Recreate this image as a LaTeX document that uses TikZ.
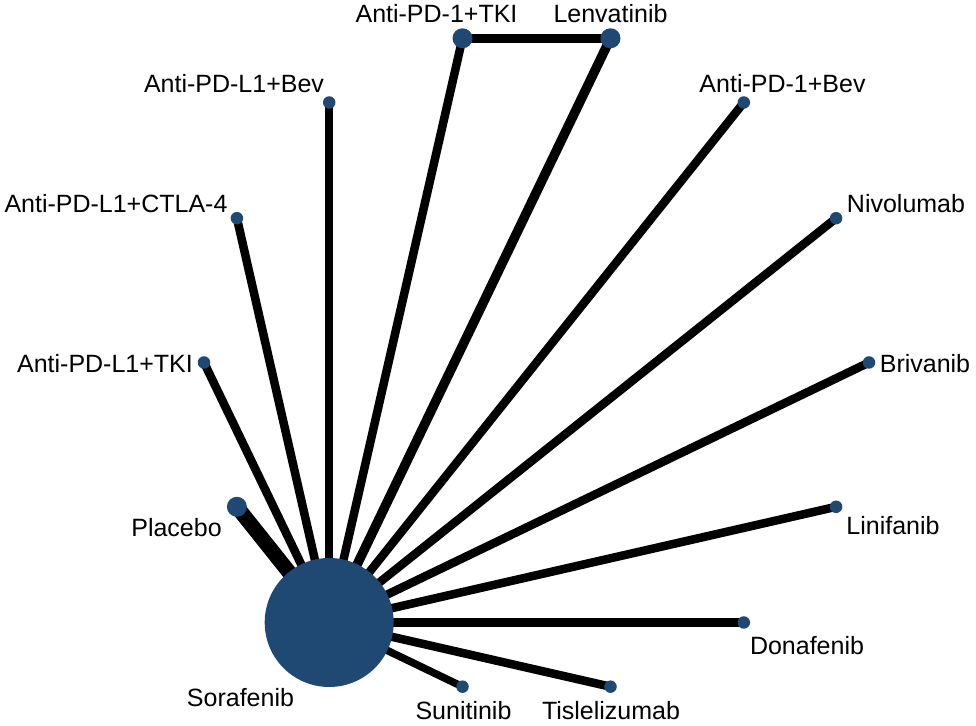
\documentclass[tikz,border=0pt]{standalone}
\usepackage{fontspec}
\setmainfont{Liberation Sans}
\usetikzlibrary{backgrounds}
\definecolor{netblue}{RGB}{31,73,115}
\tikzset{
  trt/.style={circle, fill=netblue, inner sep=0pt, minimum size=6.25pt},
  bigtrt/.style={trt, minimum size=10pt},
  lbl/.style={anchor=base, inner sep=0pt, font=\fontsize{12.5}{15}\selectfont},
  arm/.style={line width=4.25pt},
}
\begin{document}
\begin{tikzpicture}
        [x=0.5pt, y=-0.5pt]
        \useasboundingbox (0,0) rectangle (976,726);
        % treatments
        \node[trt, minimum size=64.5pt] (sora) at (329.2,622.5) {};
        \node[trt] (briv) at (869.0,362.5) {};
        \node[trt] (nivo) at (836.1,218.2) {};
        \node[trt] (pdbev) at (743.8,102.5) {};
        \node[bigtrt] (lenva) at (610.5,38.3) {};
        \node[bigtrt] (pdtki) at (462.5,38.3) {};
        \node[trt] (plbev) at (329.2,102.5) {};
        \node[trt] (plctla) at (236.9,218.2) {};
        \node[trt] (pltki) at (204.0,362.5) {};
        \node[bigtrt] (plac) at (236.9,506.8) {};
        \node[trt] (suni) at (462.5,686.7) {};
        \node[trt] (tisl) at (610.5,686.7) {};
        \node[trt] (dona) at (743.8,622.5) {};
        \node[trt] (lini) at (836.1,506.8) {};
        % names
        \node[lbl] (tsora) at (240.5,707) {Sorafenib};
        \node[lbl] (tbriv) at (925,373) {Brivanib};
        \node[lbl] (tnivo) at (906,213) {Nivolumab};
        \node[lbl] (tpdbev) at (782.5,93) {Anti-PD-1+Bev};
        \node[lbl] (tlenva) at (610.5,23) {Lenvatinib};
        \node[lbl] (tpdtki) at (436.5,23) {Anti-PD-1+TKI};
        \node[lbl] (tplbev) at (234,93) {Anti-PD-L1+Bev};
        \node[lbl] (tplctla) at (116,213) {Anti-PD-L1+CTLA-4};
        \node[lbl] (tpltki) at (105,373) {Anti-PD-L1+TKI};
        \node[lbl] (tplac) at (176.5,537) {Placebo};
        \node[lbl] (tsuni) at (463.5,720) {Sunitinib};
        \node[lbl] (ttisl) at (611,720) {Tislelizumab};
        \node[lbl] (tdona) at (807,655) {Donafenib};
        \node[lbl] (tlini) at (893,535) {Linifanib};
        % comparisons
        \begin{pgfonlayer}{background}
        \draw[arm] (sora.center) -- (briv.center);
        \draw[arm] (sora.center) -- (nivo.center);
        \draw[arm] (sora.center) -- (pdbev.center);
        \draw[arm, line width=4.75pt] (sora.center) -- (lenva.center);
        \draw[arm] (sora.center) -- (pdtki.center);
        \draw[arm] (sora.center) -- (plbev.center);
        \draw[arm] (sora.center) -- (plctla.center);
        \draw[arm] (sora.center) -- (pltki.center);
        \draw[arm, line width=7.5pt] (sora.center) -- (plac.center);
        \draw[arm, line width=3.75pt] (sora.center) -- (suni.center);
        \draw[arm] (sora.center) -- (tisl.center);
        \draw[arm] (sora.center) -- (dona.center);
        \draw[arm] (sora.center) -- (lini.center);
        \draw[arm] (pdtki.center) -- (lenva.center);
        \end{pgfonlayer}
\end{tikzpicture}
\end{document}
